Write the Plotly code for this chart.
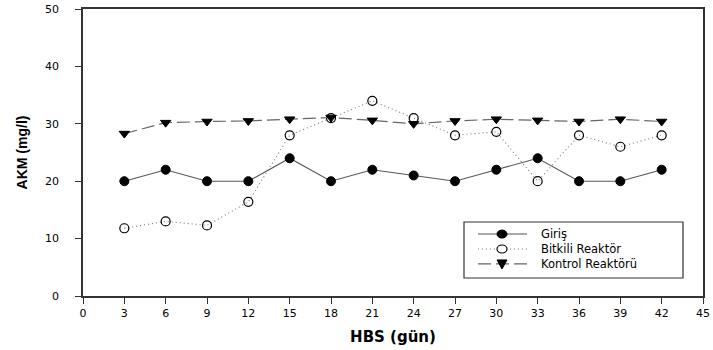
import plotly.graph_objects as go

# Sampling days (HBS, gün)
days = [3, 6, 9, 12, 15, 18, 21, 24, 27, 30, 33, 36, 39, 42]

# AKM concentrations (mg/l)
giris = [20, 22, 20, 20, 24, 20, 22, 21, 20, 22, 24, 20, 20, 22]
bitkili = [11.8, 13, 12.3, 16.4, 28, 31, 34, 31, 28, 28.6, 20, 28, 26, 28]
kontrol = [28.3, 30.2, 30.4, 30.5, 30.8, 31.1, 30.6, 30.0, 30.5, 30.8, 30.6, 30.4, 30.8, 30.4]

series_names = ["Giriş", "Bitkili Reaktör", "Kontrol Reaktörü"]

x_ticks = list(range(0, 46, 3))
y_ticks = list(range(0, 51, 10))

TICK_FONT = "DejaVu Sans, sans-serif"
LINE_GRAY = "#555555"

styles = [
    dict(line=dict(color=LINE_GRAY, width=1.1, dash="solid"),
         marker=dict(symbol="circle", size=9, color="black",
                     line=dict(color="black", width=1))),
    dict(line=dict(color="#777777", width=1.1, dash="1px,3px"),
         marker=dict(symbol="circle-open", size=9, color="black",
                     line=dict(color="black", width=1.2))),
    dict(line=dict(color="#666666", width=1.2, dash="13px,5px"),
         marker=dict(symbol="triangle-down", size=9, color="black",
                     line=dict(color="black", width=1))),
]

fig = go.Figure()
for name, values, st in zip(series_names, [giris, bitkili, kontrol], styles):
    fig.add_trace(go.Scatter(x=days, y=values, name=name, mode="lines+markers",
                             showlegend=False, **st))

# --- compact boxed legend drawn in paper coordinates ---
PLOT_L, PLOT_R, PLOT_T, PLOT_B = 83, 703, 9, 296
LEG_FONT = 11.5
LEG_CENTER = 249
ROW_STEP = LEG_FONT * 1.3


def px_x(p):
    return (p - PLOT_L) / (PLOT_R - PLOT_L)


def px_y(p):
    return (PLOT_B - p) / (PLOT_B - PLOT_T)


shapes = [dict(type="rect", xref="paper", yref="paper",
               x0=px_x(464), x1=px_x(683), y0=px_y(278), y1=px_y(222),
               line=dict(color="#333333", width=1.2), fillcolor="white", layer="above")]
row_y = [LEG_CENTER - ROW_STEP, LEG_CENTER, LEG_CENTER + ROW_STEP]
for st, ry in zip(styles, row_y):
    ln = st["line"]
    shapes.append(dict(type="line", xref="paper", yref="paper",
                       x0=px_x(478), x1=px_x(527), y0=px_y(ry), y1=px_y(ry),
                       line=dict(color=ln["color"], width=ln["width"], dash=ln["dash"]),
                       layer="above"))

# legend labels as one multi-line text block
annotations = [dict(xref="paper", yref="paper", x=px_x(540), y=px_y(LEG_CENTER),
                    xanchor="left", yanchor="middle", align="left", showarrow=False,
                    borderpad=0, text="<br>".join(series_names),
                    font=dict(family=TICK_FONT, size=LEG_FONT, color="black"))]

# legend symbols
cx = 502
r = 4
shapes.append(dict(type="circle", xref="paper", yref="paper",
                   x0=px_x(cx - r - 1), x1=px_x(cx + r + 1), y0=px_y(row_y[0] + r), y1=px_y(row_y[0] - r),
                   fillcolor="black", line=dict(color="black", width=1), layer="above"))
shapes.append(dict(type="circle", xref="paper", yref="paper",
                   x0=px_x(cx - r - 1), x1=px_x(cx + r + 1), y0=px_y(row_y[1] + r), y1=px_y(row_y[1] - r),
                   fillcolor="white", line=dict(color="black", width=1.2), layer="above"))
tri_y = row_y[2]
shapes.append(dict(type="path", xref="paper", yref="paper",
                   path=(f"M {px_x(cx - 5)} {px_y(tri_y - 4)} L {px_x(cx + 5)} {px_y(tri_y - 4)} "
                         f"L {px_x(cx)} {px_y(tri_y + 5)} Z"),
                   fillcolor="black", line=dict(color="black", width=1), layer="above"))

fig.update_layout(
    width=713, height=350,
    margin=dict(l=PLOT_L, r=713 - PLOT_R, t=PLOT_T, b=350 - PLOT_B),
    paper_bgcolor="white", plot_bgcolor="white",
    font=dict(family=TICK_FONT, size=10, color="black"),
    showlegend=False,
    shapes=shapes,
    annotations=annotations,
)

fig.update_xaxes(
    range=[0, 45], tickvals=x_ticks, ticktext=[str(v) for v in x_ticks],
    showgrid=False, zeroline=False, automargin=False,
    showline=True, linecolor="#333333", linewidth=1.5, mirror=True,
    ticks="outside", ticklen=6, tickcolor="#333333",
    tickfont=dict(family=TICK_FONT, size=11),
    title=dict(text="<b>HBS (gün)</b>", font=dict(family=TICK_FONT, size=15), standoff=13),
)
fig.update_yaxes(
    range=[0, 50], tickvals=y_ticks, ticktext=[str(v) for v in y_ticks],
    showgrid=False, zeroline=False, automargin=False,
    showline=True, linecolor="#333333", linewidth=1.5, mirror=True,
    ticks="outside", ticklen=6, tickcolor="#333333",
    tickfont=dict(family=TICK_FONT, size=11), ticklabelstandoff=14,
    title=dict(text="<b>AKM (mg/l)</b>",
               font=dict(family="Liberation Sans, Arial, sans-serif", size=14), standoff=14),
)

fig.write_html("out.html")
